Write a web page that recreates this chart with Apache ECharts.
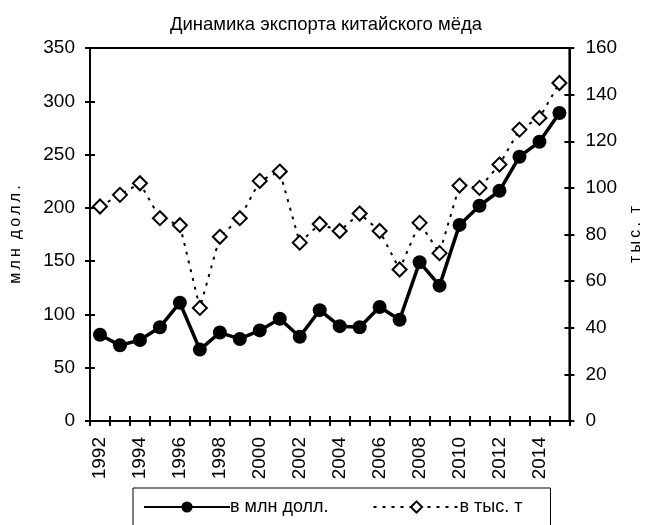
<!DOCTYPE html>
<html>
<head>
<meta charset="utf-8">
<script src="https://cdn.jsdelivr.net/npm/echarts@6/dist/echarts.min.js"></script>
<style>
  html, body { margin: 0; padding: 0; background: #fff; }
  #chart { width: 652px; height: 525px; }
</style>
</head>
<body>
<div id="chart"></div>
<script>
// годы
const years = ['1992', '1993', '1994', '1995', '1996', '1997', '1998', '1999', '2000', '2001', '2002', '2003',
  '2004', '2005', '2006', '2007', '2008', '2009', '2010', '2011', '2012', '2013', '2014', '2015'];

// экспорт, млн долл.
const valueUsd = [81, 71, 76, 88, 111, 67, 83, 77, 85, 96, 79, 104,
  89, 88, 107, 95, 149, 127, 184, 202, 216, 248, 262, 289];

// экспорт, тыс. т
const valueTons = [92, 97, 102, 87, 84, 48.5, 79, 87, 103, 107, 76.5, 84.5,
  81.5, 89, 81.5, 65, 85, 72, 101, 100, 110, 125, 130, 145];

const FONT = '"Liberation Sans", Arial, sans-serif';
const TS = '\u2009'; // тонкий пробел для разрядки подписей осей

const chart = echarts.init(document.getElementById('chart'));

const baseY = {
  type: 'value',
  splitLine: { show: false },
  axisLine: { show: true, lineStyle: { color: '#000', width: 2 } },
  axisTick: { show: true, length: 5, lineStyle: { color: '#000', width: 2 } }
};

chart.setOption({
  animation: false,
  textStyle: { fontFamily: FONT },
  title: {
    text: 'Динамика экспорта китайского мёда',
    left: 'center',
    top: 10,
    textStyle: { fontFamily: FONT, fontSize: 18.5, fontWeight: 'normal', color: '#000' }
  },
  legend: {
    left: 133,
    top: 488,
    padding: [10, 28, 14, 10],
    itemGap: 44,
    itemWidth: 86,
    itemHeight: 14,
    borderColor: '#000',
    borderWidth: 1,
    borderRadius: 0,
    textStyle: { fontFamily: FONT, fontSize: 18, color: '#000', padding: [0, 0, 0, -5] },
    data: ['в млн долл.', 'в тыс. т']
  },
  grid: {
    left: 88,
    right: 81,
    top: 48,
    bottom: 104,
    show: true,
    borderColor: '#000',
    borderWidth: 2,
    backgroundColor: 'transparent'
  },
  xAxis: [
    {
      type: 'category',
      data: years,
      position: 'bottom',
      boundaryGap: true,
      axisLine: { show: true, lineStyle: { color: '#000', width: 2 } },
      axisTick: { show: true, interval: 0, length: 5, lineStyle: { color: '#000', width: 2 } },
      axisLabel: { interval: 1, rotate: 90, fontSize: 19, color: '#000', margin: 16, fontFamily: FONT }
    },
    {
      type: 'category',
      data: years,
      position: 'bottom',
      boundaryGap: true,
      axisLine: { show: false },
      axisTick: { show: true, inside: true, interval: 0, length: 5, lineStyle: { color: '#000', width: 2 } },
      axisLabel: { show: false }
    }
  ],
  yAxis: [
    Object.assign({}, baseY, {
      position: 'left',
      min: 0,
      max: 350,
      interval: 50,
      name: ['м', 'л', 'н'].join(TS) + '  ' + ['д', 'о', 'л', 'л', '.'].join(TS),
      nameLocation: 'middle',
      nameRotate: 90,
      nameGap: 66,
      nameTextStyle: { fontFamily: FONT, fontSize: 16, color: '#000' },
      axisLabel: { fontSize: 19, color: '#000', margin: 15, fontFamily: FONT }
    }),
    Object.assign({}, baseY, {
      position: 'left',
      min: 0,
      max: 350,
      interval: 50,
      axisLine: { show: false },
      axisTick: { show: true, inside: true, length: 5, lineStyle: { color: '#000', width: 2 } },
      axisLabel: { show: false }
    }),
    Object.assign({}, baseY, {
      position: 'right',
      min: 0,
      max: 160,
      interval: 20,
      name: ['т', 'ы', 'с', '.'].join(TS) + '  т',
      nameLocation: 'middle',
      nameRotate: 90,
      nameGap: 55,
      nameTextStyle: { fontFamily: FONT, fontSize: 16, color: '#000' },
      axisLabel: { fontSize: 19, color: '#000', margin: 16, fontFamily: FONT }
    }),
    Object.assign({}, baseY, {
      position: 'right',
      min: 0,
      max: 160,
      interval: 20,
      axisLine: { show: false },
      axisTick: { show: true, inside: true, length: 5, lineStyle: { color: '#000', width: 2 } },
      axisLabel: { show: false }
    })
  ],
  series: [
    {
      name: 'в тыс. т',
      type: 'line',
      xAxisIndex: 0,
      yAxisIndex: 2,
      data: valueTons,
      symbol: 'diamond',
      symbolSize: [14, 14],
      showAllSymbol: true,
      lineStyle: { color: '#000', width: 2, type: [3, 6] },
      itemStyle: { color: '#fff', borderColor: '#000', borderWidth: 2 },
      z: 2
    },
    {
      name: 'в млн долл.',
      type: 'line',
      xAxisIndex: 0,
      yAxisIndex: 0,
      data: valueUsd,
      symbol: 'circle',
      symbolSize: 14,
      showAllSymbol: true,
      lineStyle: { color: '#000', width: 3.5 },
      itemStyle: { color: '#000', borderColor: '#000', borderWidth: 0 },
      z: 3
    }
  ]
});
</script>
</body>
</html>
